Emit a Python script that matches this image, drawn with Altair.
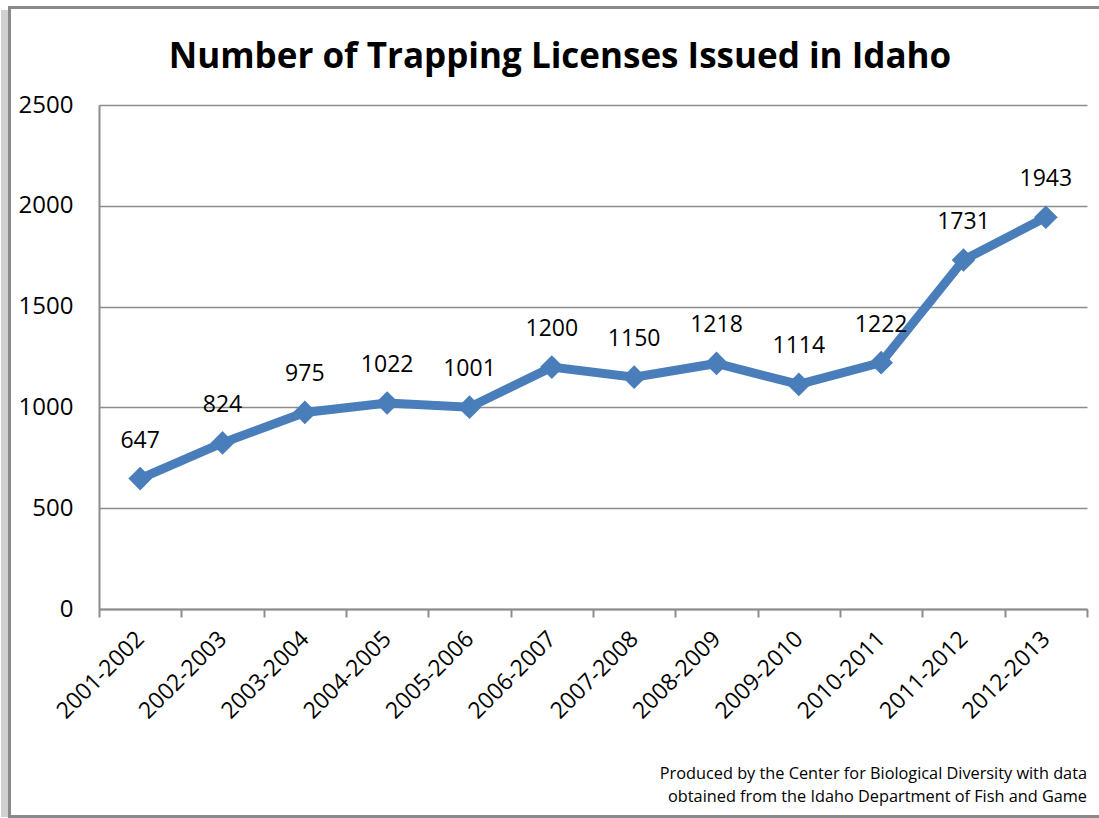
import altair as alt
import pandas as pd

seasons = ["2001-2002", "2002-2003", "2003-2004", "2004-2005", "2005-2006", "2006-2007",
           "2007-2008", "2008-2009", "2009-2010", "2010-2011", "2011-2012", "2012-2013"]
licenses = [647, 824, 975, 1022, 1001, 1200, 1150, 1218, 1114, 1222, 1731, 1943]

title_text = "Number of Trapping Licenses Issued in Idaho"
footer_text = ["Produced by the Center for Biological Diversity with data",
               "obtained from the Idaho Department of Fish and Game"]

df = pd.DataFrame({"season": seasons, "licenses": licenses})

FONT = "Open Sans"
BLUE = "#4A7EBB"
GRAY = "#8C8C8C"

xenc = alt.X("season:N", sort=seasons, bandPosition=0.5,
             scale=alt.Scale(type="band", paddingInner=0, paddingOuter=0),
             axis=alt.Axis(title=None, labelAngle=-45, labelAlign="right", labelBaseline="middle",
                           labelFont=FONT, labelFontSize=23, labelColor="black", labelPadding=18,
                           tickBand="extent", tickSize=8, tickColor=GRAY, tickWidth=2,
                           domainColor=GRAY, domainWidth=2, grid=False, labelOverlap=False))
yenc = alt.Y("licenses:Q", scale=alt.Scale(domain=[0, 2500], nice=False),
             axis=alt.Axis(title=None, values=[0, 500, 1000, 1500, 2000, 2500], format="d",
                           labelFont=FONT, labelFontSize=24, labelColor="black", labelPadding=26,
                           ticks=False, domainColor=GRAY, domainWidth=2,
                           grid=True, gridColor=GRAY, gridWidth=1.5))

base = alt.Chart(df)
one = pd.DataFrame({"k": [0]})

frame_shadow = alt.Chart(one).mark_rect(fill="#d0d0d0", stroke=None).encode(
    x=alt.value(-98), x2=alt.value(-91), y=alt.value(-95), y2=alt.value(712))
frame_top = alt.Chart(one).mark_rect(fill="#8a8a8a", stroke=None).encode(
    x=alt.value(-91), x2=alt.value(1000), y=alt.value(-99), y2=alt.value(-96))
frame_bottom = alt.Chart(one).mark_rect(fill="#8a8a8a", stroke=None).encode(
    x=alt.value(-91), x2=alt.value(1000), y=alt.value(710), y2=alt.value(713))
frame_left = alt.Chart(one).mark_rect(fill="#8a8a8a", stroke=None).encode(
    x=alt.value(-91), x2=alt.value(-88), y=alt.value(-99), y2=alt.value(713))

line = base.mark_line(color=BLUE, strokeWidth=9).encode(x=xenc, y=yenc)
pts = base.mark_point(shape="diamond", filled=True, color=BLUE, size=560, opacity=1).encode(x=xenc, y=yenc)
labels = base.mark_text(font=FONT, fontSize=23, color="black", baseline="alphabetic", dy=-31).encode(
    x=xenc, y=yenc, text="licenses:Q")

title = alt.Chart(pd.DataFrame({"t": [title_text]})).mark_text(
    font=FONT, fontSize=35, fontWeight="bold", color="black", align="center", baseline="alphabetic").encode(
    x=alt.value(461), y=alt.value(-37), text="t:N")

footer = alt.Chart(pd.DataFrame({"t": ["\n".join(footer_text)]})).mark_text(
    font=FONT, fontSize=16.3, color="black", align="right", baseline="alphabetic",
    lineBreak="\n", lineHeight=23).encode(
    x=alt.value(988), y=alt.value(674), text="t:N")

chart = alt.layer(frame_shadow, frame_top, frame_bottom, frame_left, line, pts, labels, title, footer).properties(
    width=988, height=504,
    autosize=alt.AutoSizeParams(type="none"),
    padding={"left": 99, "top": 105, "right": 12, "bottom": 209},
    background="white",
).configure_view(stroke=None)

chart.save("out.html", embed_options={"renderer": "svg", "actions": False})
